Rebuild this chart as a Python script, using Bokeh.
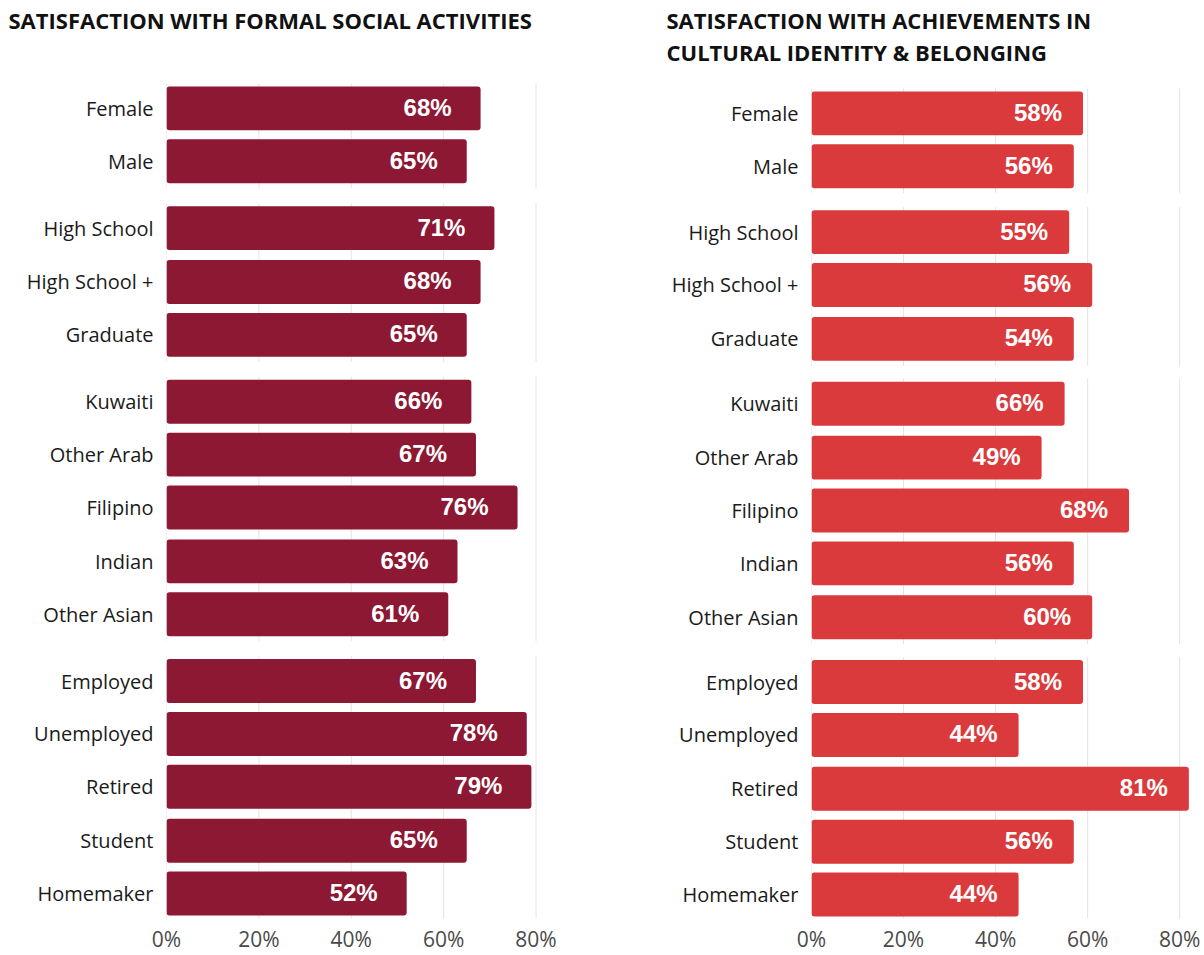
from bokeh.plotting import figure
from bokeh.models import Range1d, FixedTicker, PrintfTickFormatter, Title, ColumnDataSource
from bokeh.layouts import row
from bokeh.embed import file_html
from bokeh.resources import INLINE
from bokeh.core.properties import value

# ---------------- data ----------------
group_gender = ["Female", "Male"]
group_education = ["High School", "High School +", "Graduate"]
group_nationality = ["Kuwaiti", "Other Arab", "Filipino", "Indian", "Other Asian"]
group_status = ["Employed", "Unemployed", "Retired", "Student", "Homemaker"]
groups = [group_gender, group_education, group_nationality, group_status]

social_values = [68, 65, 71, 68, 65, 66, 67, 76, 63, 61, 67, 78, 79, 65, 52]
social_labels = ["68%", "65%", "71%", "68%", "65%", "66%", "67%", "76%", "63%", "61%",
                 "67%", "78%", "79%", "65%", "52%"]

cultural_values = [59, 57, 56, 61, 57, 55, 50, 69, 57, 61, 59, 45, 82, 57, 45]
cultural_labels = ["58%", "56%", "55%", "56%", "54%", "66%", "49%", "68%", "56%", "60%",
                   "58%", "44%", "81%", "56%", "44%"]

x_ticks = [0, 20, 40, 60, 80]

left_title = ["SATISFACTION WITH FORMAL SOCIAL ACTIVITIES", " "]
right_title = ["SATISFACTION WITH ACHIEVEMENTS IN", "CULTURAL IDENTITY & BELONGING"]

FONT = "Open Sans"
BAR_H = 44
HEIGHT = 955
FRAME_TOP = 66
FRAME_BOTTOM = 920


def positions(base, pitch, gap):
    pos = []
    k = 0
    for gi, g in enumerate(groups):
        for _ in g:
            pos.append(int(round(base + k * pitch + gi * gap)))
            k += 1
    return pos


def panel(values, labels, color, titles, width, border_left, border_right,
          x_end, base, pitch, gap, title_offset, text_offset):
    cats = [c for g in groups for c in g]
    pos = positions(base, pitch, gap)
    p = figure(width=width, height=HEIGHT, output_backend="svg", toolbar_location=None,
               x_range=Range1d(0, x_end), y_range=Range1d(FRAME_BOTTOM, FRAME_TOP),
               min_border_left=border_left, min_border_right=border_right,
               min_border_top=FRAME_TOP, min_border_bottom=HEIGHT - FRAME_BOTTOM,
               outline_line_color=None, background_fill_color="white",
               border_fill_color="white")
    p.grid.visible = False

    # segmented gridlines, one block per group
    gx0, gy0, gy1 = [], [], []
    k = 0
    for g in groups:
        top = pos[k] - BAR_H / 2 - 3
        bot = pos[k + len(g) - 1] + BAR_H / 2 + 5
        for t in x_ticks:
            gx0.append(t)
            gy0.append(top)
            gy1.append(bot)
        k += len(g)
    p.segment(x0=gx0, x1=gx0, y0=gy0, y1=gy1, line_color="#e4e4e4", line_width=1)

    src = ColumnDataSource(dict(y=pos, v=values, lab=labels, cat=cats))
    p.hbar(y="y", left=0, right="v", height=BAR_H, source=src, fill_color=color,
           line_color=None, border_radius=3)
    p.text(x="v", y="y", text="lab", source=src, text_align="right", text_baseline="middle",
           x_offset=text_offset, y_offset=-1, text_color="white",
           text_font=value("Liberation Sans"), text_font_style="bold", text_font_size="24px")

    # axes
    xa = p.xaxis[0]
    xa.ticker = FixedTicker(ticks=x_ticks)
    xa.formatter = PrintfTickFormatter(format="%d%%")
    xa.axis_line_color = None
    xa.major_tick_line_color = None
    xa.minor_tick_line_color = None
    xa.major_tick_out = 0
    xa.major_tick_in = 0
    xa.minor_tick_out = 0
    xa.major_label_standoff = 6
    xa.major_label_text_font = FONT
    xa.major_label_text_font_size = "21px"
    xa.major_label_text_color = "#4a4a4a"

    ya = p.yaxis[0]
    ya.ticker = FixedTicker(ticks=pos)
    ya.major_label_overrides = {y: c for y, c in zip(pos, cats)}
    ya.axis_line_color = None
    ya.major_tick_line_color = None
    ya.minor_tick_line_color = None
    ya.major_tick_out = 0
    ya.major_tick_in = 0
    ya.minor_tick_out = 0
    ya.major_label_standoff = 13
    ya.major_label_text_font = FONT
    ya.major_label_text_font_size = "20px"
    ya.major_label_text_color = "#1a1a1a"

    for t in reversed(titles):
        p.add_layout(Title(text=t, align="left", offset=title_offset, standoff=0,
                           text_font=FONT, text_font_style="bold", text_font_size="22px",
                           text_color="#111111"), "above")
    return p


left = panel(social_values, social_labels, "#8c1833", left_title,
             width=600, border_left=166, border_right=40, x_end=85.3,
             base=108, pitch=53.2, gap=14, title_offset=-158, text_offset=-29)

right = panel(cultural_values, cultural_labels, "#da3a3c", right_title,
              width=604, border_left=211, border_right=0, x_end=85.4,
              base=113, pitch=53.3, gap=12.4, title_offset=-145, text_offset=-21)

layout = row(left, right)
open("out.html", "w").write(file_html(layout, INLINE))
